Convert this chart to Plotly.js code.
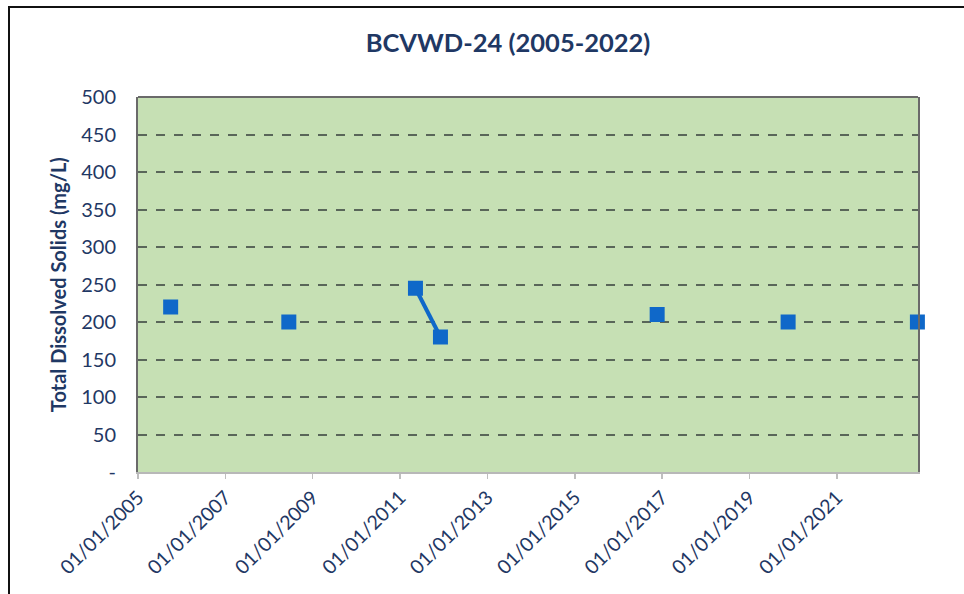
<!DOCTYPE html>
<html>
<head>
<meta charset="utf-8">
<script src="https://cdn.plot.ly/plotly-3.0.1.min.js"></script>
<style>
  html, body { margin: 0; padding: 0; background: #ffffff; overflow: hidden; width: 964px; height: 594px; }
  #frame { position: absolute; left: 8px; top: 6px; width: 2000px; height: 2000px; border: 2.5px solid #111; box-sizing: border-box; pointer-events: none; }
  #chart { position: absolute; left: 0; top: 0; width: 964px; height: 594px; }
</style>
</head>
<body>
<div id="chart"></div>
<div id="frame"></div>
<script>
// ---- data ----
const sampleDates = ['2005-10-01', '2008-06-15', '2011-05-10', '2011-12-05', '2016-11-20', '2019-11-20', '2022-11-05'];
const tdsValues   = [220, 200, 245, 180, 210, 200, 200];
// points sharing a group id are joined by a line segment
const sampleGroup = [1, 2, 3, 3, 4, 5, 6];

const yTickVals  = [0, 50, 100, 150, 200, 250, 300, 350, 400, 450, 500];
const yTickText  = ['-', '50', '100', '150', '200', '250', '300', '350', '400', '450', '500'];
const xTickVals  = ['2005-01-01', '2007-01-01', '2009-01-01', '2011-01-01', '2013-01-01', '2015-01-01', '2017-01-01', '2019-01-01', '2021-01-01'];
const xTickText  = ['01/01/2005', '01/01/2007', '01/01/2009', '01/01/2011', '01/01/2013', '01/01/2015', '01/01/2017', '01/01/2019', '01/01/2021'];

// build x/y with gaps between different groups
const xs = [], ys = [];
for (let i = 0; i < sampleDates.length; i++) {
  if (i > 0 && sampleGroup[i] !== sampleGroup[i - 1]) { xs.push(null); ys.push(null); }
  xs.push(sampleDates[i]); ys.push(tdsValues[i]);
}

const navy = '#1F3864';
const blue = '#0F68C9';
const font = 'Lato, "Open Sans", sans-serif';

const trace = {
  x: xs, y: ys,
  type: 'scatter',
  mode: 'lines+markers',
  connectgaps: false,
  cliponaxis: false,
  line: { color: blue, width: 4 },
  marker: { symbol: 'square', size: 15, color: blue },
  hoverinfo: 'x+y'
};

const layout = {
  width: 964, height: 594,
  margin: { l: 138, r: 46, t: 97, b: 122 },
  paper_bgcolor: 'rgba(0,0,0,0)',
  plot_bgcolor: '#C6E0B4',
  showlegend: false,
  title: {
    text: '<b>BCVWD-24 (2005-2022)</b>',
    font: { family: font, size: 25.5, color: navy },
    x: 0.527, xref: 'container', xanchor: 'center',
    y: 0.928, yref: 'container', yanchor: 'middle'
  },
  xaxis: {
    type: 'date',
    range: ['2005-01-01', '2022-11-10'],
    tickmode: 'array', tickvals: xTickVals, ticktext: xTickText,
    tickangle: -45,
    tickfont: { family: font, size: 19.5, color: navy },
    ticks: 'outside', ticklen: 5, tickcolor: '#bfbfbf', tickwidth: 1.5,
    showgrid: false, zeroline: false,
    showline: true, linecolor: '#b8b8b8', linewidth: 1.5, mirror: false
  },
  yaxis: {
    range: [0, 500],
    tickmode: 'array', tickvals: yTickVals, ticktext: yTickText,
    tickfont: { family: font, size: 20, color: navy },
    ticks: '', ticklabelstandoff: 16,
    showgrid: true, gridcolor: '#596659', griddash: 'dash', gridwidth: 2,
    zeroline: false,
    showline: true, linecolor: '#6a6a6a', linewidth: 2, mirror: true
  },
  shapes: [
    { type: 'line', xref: 'paper', yref: 'paper', x0: 0, x1: 1, y0: 1, y1: 1,
      line: { color: '#6a6a6a', width: 2 }, layer: 'above' }
  ],
  annotations: [
    { text: '<b>Total Dissolved Solids (mg/L)</b>', textangle: -90,
      xref: 'paper', yref: 'paper', x: -0.103, y: 0.5,
      xanchor: 'center', yanchor: 'middle', showarrow: false,
      font: { family: font, size: 20, color: navy } }
  ]
};

Plotly.newPlot('chart', [trace], layout, { displayModeBar: false, staticPlot: true });
</script>
</body>
</html>
